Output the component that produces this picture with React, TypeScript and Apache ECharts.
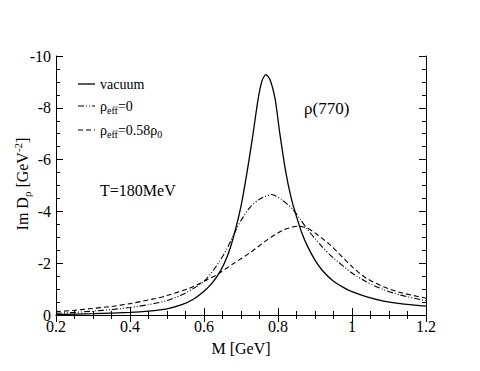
import React, { useEffect, useRef } from "react";
import * as echarts from "echarts";

const vacuumM = [0.2, 0.3, 0.4, 0.45, 0.5, 0.54, 0.57, 0.6, 0.62, 0.64, 0.655, 0.67, 0.685, 0.7, 0.715, 0.73, 0.747, 0.757, 0.767, 0.778, 0.792, 0.805, 0.82, 0.835, 0.85, 0.865, 0.88, 0.9, 0.92, 0.95, 0.98, 1.0, 1.04, 1.085, 1.13, 1.2];
const vacuumV = [-0.02, -0.05, -0.1, -0.15, -0.24, -0.4, -0.6, -0.92, -1.2, -1.6, -2.0, -2.55, -3.3, -4.2, -5.4, -6.75, -8.4, -9.05, -9.28, -9.1, -8.35, -7.0, -5.6, -4.55, -3.8, -3.15, -2.65, -2.12, -1.72, -1.3, -1.04, -0.9, -0.7, -0.54, -0.44, -0.34];

const eff0M = [0.2, 0.25, 0.3, 0.35, 0.4, 0.45, 0.5, 0.55, 0.6, 0.634, 0.66, 0.68, 0.7, 0.724, 0.75, 0.783, 0.81, 0.84, 0.86, 0.88, 0.9, 0.92, 0.95, 1.0, 1.04, 1.085, 1.13, 1.2];
const eff0V = [-0.07, -0.1, -0.15, -0.21, -0.29, -0.4, -0.56, -0.85, -1.3, -1.9, -2.5, -3.1, -3.65, -4.15, -4.47, -4.65, -4.45, -4.08, -3.7, -3.3, -2.95, -2.62, -2.2, -1.62, -1.27, -0.98, -0.77, -0.55];

const eff058M = [0.2, 0.25, 0.29, 0.35, 0.4, 0.47, 0.5, 0.56, 0.6, 0.634, 0.68, 0.724, 0.77, 0.814, 0.855, 0.88, 0.9, 0.94, 1.0, 1.04, 1.085, 1.13, 1.2];
const eff058V = [-0.13, -0.18, -0.24, -0.33, -0.44, -0.64, -0.75, -1.03, -1.3, -1.55, -1.99, -2.4, -2.89, -3.28, -3.43, -3.35, -3.17, -2.72, -1.87, -1.41, -1.09, -0.87, -0.65];

const FONT = "Liberation Serif";

function pairs(xs: number[], ys: number[]) {
  return xs.map((x, i) => [x, ys[i]]);
}

export default function App() {
  const ref = useRef<HTMLDivElement>(null);
  useEffect(() => {
    if (!ref.current) return;
    const chart = echarts.init(ref.current, null, { renderer: "svg" });
    const axisCommon = {
      axisLine: { show: true, lineStyle: { color: "#000", width: 1 } },
      axisTick: { show: true, inside: true, length: 7, lineStyle: { color: "#000" } },
      minorTick: { show: true, splitNumber: 4, length: 4, lineStyle: { color: "#000" } },
      splitLine: { show: false },
      minorSplitLine: { show: false },
    };
    const lineBase = { type: "line", showSymbol: false, symbol: "none", smooth: 0.25, silent: true };
    chart.setOption({
      animation: false,
      backgroundColor: "#fff",
      grid: { left: 56, right: 54, top: 56, bottom: 56 },
      xAxis: [
        {
          type: "value",
          min: 0.2,
          max: 1.2,
          interval: 0.2,
          position: "bottom",
          ...axisCommon,
          axisLabel: {
            color: "#000",
            fontFamily: FONT,
            fontSize: 16,
            margin: 4,
            lineHeight: 14,
            formatter: (v: number) => String(Number(v.toFixed(2))),
          },
          name: "M [GeV]",
          nameLocation: "middle",
          nameGap: 25,
          nameTextStyle: { color: "#000", fontFamily: FONT, fontSize: 16 },
        },
        {
          type: "value",
          min: 0.2,
          max: 1.2,
          interval: 0.2,
          position: "top",
          ...axisCommon,
          axisLabel: { show: false },
        },
      ],
      yAxis: [
        {
          type: "value",
          min: -10,
          max: 0,
          interval: 2,
          inverse: true,
          position: "left",
          ...axisCommon,
          axisLabel: {
            color: "#000",
            fontFamily: FONT,
            fontSize: 16,
            margin: 5,
            lineHeight: 8,
            formatter: (v: number) => String(v),
          },
        },
        {
          type: "value",
          min: -10,
          max: 0,
          interval: 2,
          inverse: true,
          position: "right",
          ...axisCommon,
          axisLabel: { show: false },
        },
      ],
      series: [
        {
          ...lineBase,
          name: "vacuum",
          data: pairs(vacuumM, vacuumV),
          lineStyle: { color: "#000", width: 1.3, type: "solid" },
        },
        {
          ...lineBase,
          name: "ρeff=0",
          data: pairs(eff0M, eff0V),
          lineStyle: { color: "#000", width: 1.1, type: [6, 2, 1, 2, 1, 2] },
        },
        {
          ...lineBase,
          name: "ρeff=0.58ρ0",
          data: pairs(eff058M, eff058V),
          lineStyle: { color: "#000", width: 1.1, type: [5, 3] },
        },
      ],
      graphic: [
        { type: "line", shape: { x1: 78, y1: 84, x2: 95, y2: 84 }, style: { stroke: "#000", lineWidth: 1.3 } },
        { type: "line", shape: { x1: 78, y1: 106, x2: 95, y2: 106 }, style: { stroke: "#000", lineWidth: 1.1, lineDash: [6, 2, 1, 2, 1, 2] } },
        { type: "line", shape: { x1: 78, y1: 130, x2: 95, y2: 130 }, style: { stroke: "#000", lineWidth: 1.1, lineDash: [5, 3] } },
        {
          type: "text",
          x: 100,
          y: 84,
          style: { text: "vacuum", fontFamily: FONT, fontSize: 14, fill: "#000", verticalAlign: "middle" },
        },
        {
          type: "text",
          x: 100,
          y: 106,
          style: {
            text: "ρ{sub|eff}=0",
            fontFamily: FONT,
            fontSize: 14,
            fill: "#000",
            verticalAlign: "middle",
            rich: { sub: { fontFamily: FONT, fontSize: 10, padding: [9, 0, 0, 0] } },
          },
        },
        {
          type: "text",
          x: 100,
          y: 130,
          style: {
            text: "ρ{sub|eff}=0.58ρ{sub|0}",
            fontFamily: FONT,
            fontSize: 14,
            fill: "#000",
            verticalAlign: "middle",
            rich: { sub: { fontFamily: FONT, fontSize: 10, padding: [9, 0, 0, 0] } },
          },
        },
        {
          type: "text",
          x: 100,
          y: 190,
          style: { text: "T=180MeV", fontFamily: FONT, fontSize: 16, fill: "#000", verticalAlign: "middle" },
        },
        {
          type: "text",
          x: 304,
          y: 108,
          style: { text: "ρ(770)", fontFamily: FONT, fontSize: 17, fill: "#000", verticalAlign: "middle" },
        },
        {
          type: "text",
          x: 22,
          y: 184,
          rotation: Math.PI / 2,
          style: {
            text: "Im D{sub|ρ} [GeV{sup|-2}]",
            fontFamily: FONT,
            fontSize: 16,
            fill: "#000",
            align: "center",
            verticalAlign: "middle",
            rich: {
              sub: { fontFamily: FONT, fontSize: 11, padding: [10, 0, 0, 0] },
              sup: { fontFamily: FONT, fontSize: 11, padding: [0, 0, 9, 0] },
            },
          },
        },
      ],
    });
    return () => chart.dispose();
  }, []);
  return <div ref={ref} style={{ position: "fixed", left: 0, top: 0, width: 480, height: 371 }} />;
}
